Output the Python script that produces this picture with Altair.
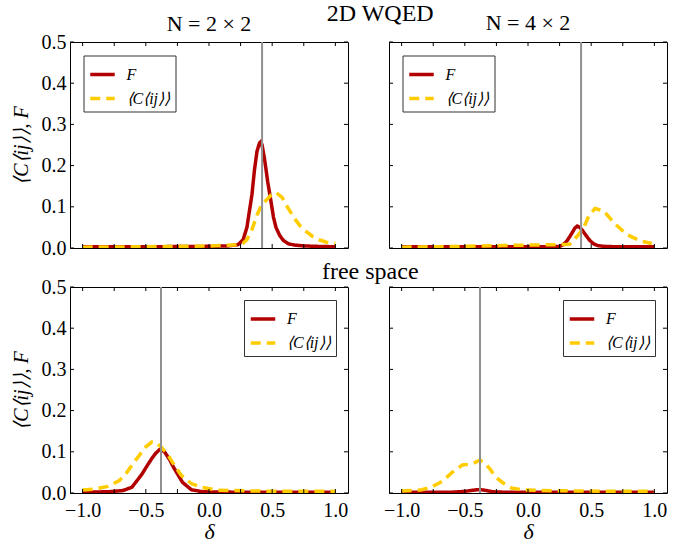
import altair as alt
import pandas as pd

# ---------------- data ----------------
SERIES = ["F", "⟨C⟨ij⟩⟩"]

# 2D WQED, N = 2 x 2
wq22_F_x = [-1.0, -0.5, 0.0, 0.15, 0.23, 0.27, 0.30, 0.32, 0.34, 0.36, 0.38, 0.40, 0.41, 0.42, 0.44, 0.465,
            0.49, 0.51, 0.53, 0.56, 0.59, 0.63, 0.68, 0.75, 0.85, 1.0]
wq22_F_y = [0.003, 0.003, 0.004, 0.005, 0.008, 0.02, 0.05, 0.09, 0.13, 0.19, 0.235, 0.255, 0.258, 0.25, 0.215,
            0.16, 0.114, 0.075, 0.05, 0.03, 0.018, 0.01, 0.007, 0.005, 0.004, 0.003]
wq22_C_x = [-1.0, -0.5, 0.0, 0.2, 0.27, 0.3, 0.34, 0.38, 0.42, 0.45, 0.49, 0.53, 0.58, 0.62, 0.68, 0.73, 0.77,
            0.82, 0.87, 0.93, 1.0]
wq22_C_y = [0.002, 0.003, 0.005, 0.007, 0.012, 0.02, 0.045, 0.08, 0.108, 0.115, 0.128, 0.135, 0.122, 0.1, 0.07,
            0.05, 0.04, 0.028, 0.02, 0.014, 0.011]

# 2D WQED, N = 4 x 2
wq42_F_x = [-1.0, -0.5, 0.0, 0.2, 0.25, 0.28, 0.31, 0.34, 0.37, 0.39, 0.41, 0.43, 0.46, 0.49, 0.52, 0.55, 0.6,
            0.7, 0.85, 1.0]
wq42_F_y = [0.003, 0.003, 0.003, 0.003, 0.004, 0.008, 0.018, 0.032, 0.048, 0.053, 0.05, 0.043, 0.03, 0.018,
            0.01, 0.006, 0.004, 0.003, 0.003, 0.003]
wq42_C_x = [-1.0, -0.5, -0.2, 0.0, 0.2, 0.33, 0.39, 0.44, 0.48, 0.53, 0.6, 0.68, 0.78, 0.89, 0.98]
wq42_C_y = [0.002, 0.004, 0.006, 0.007, 0.008, 0.009, 0.029, 0.049, 0.077, 0.096, 0.09, 0.061, 0.033, 0.017,
            0.011]

# free space, N = 2 x 2
fs22_F_x = [-1.0, -0.8, -0.68, -0.61, -0.53, -0.49, -0.45, -0.42, -0.385, -0.35, -0.31, -0.28, -0.21, -0.14,
            -0.05, 0.2, 0.5, 1.0]
fs22_F_y = [0.002, 0.003, 0.006, 0.014, 0.046, 0.066, 0.085, 0.097, 0.107, 0.099, 0.08, 0.062, 0.026, 0.008,
            0.003, 0.002, 0.002, 0.002]
fs22_C_x = [-1.0, -0.9, -0.8, -0.71, -0.65, -0.6, -0.55, -0.5, -0.45, -0.42, -0.38, -0.33, -0.29, -0.22, -0.14,
            -0.06, 0.06, 0.3, 0.6, 1.0]
fs22_C_y = [0.007, 0.01, 0.016, 0.03, 0.05, 0.072, 0.092, 0.112, 0.124, 0.123, 0.112, 0.095, 0.075, 0.043,
            0.023, 0.014, 0.007, 0.005, 0.004, 0.004]

# free space, N = 4 x 2
fs42_F_x = [-1.0, -0.6, -0.5, -0.45, -0.4, -0.37, -0.33, -0.28, -0.2, 0.0, 0.5, 1.0]
fs42_F_y = [0.002, 0.002, 0.004, 0.006, 0.008, 0.008, 0.006, 0.003, 0.002, 0.002, 0.002, 0.002]
fs42_C_x = [-1.0, -0.9, -0.84, -0.76, -0.68, -0.6, -0.52, -0.46, -0.42, -0.38, -0.34, -0.3, -0.26, -0.2, -0.13,
            -0.05, 0.1, 0.4, 0.7, 1.0]
fs42_C_y = [0.005, 0.006, 0.008, 0.015, 0.028, 0.05, 0.068, 0.07, 0.074, 0.08, 0.072, 0.058, 0.04, 0.025, 0.012,
            0.008, 0.006, 0.005, 0.004, 0.004]

vline_wqed = 0.42
vline_free = -0.38

X_TICKS = [-1.0, -0.75, -0.5, -0.25, 0.0, 0.25, 0.5, 0.75, 1.0]
X_LABELS = [-1.0, -0.5, 0.0, 0.5, 1.0]
Y_TICKS = [0.0, 0.1, 0.2, 0.3, 0.4, 0.5]

# ---------------- style ----------------
W, H = 278, 206
FONT = "Liberation Serif"
RED = "#b20000"
YELLOW = "#ffcc00"
TL = 4  # inward tick length


def panel(fx, fy, cx, cy, vline, lx, ly, show_x, show_y, title=None, title_offset=6):
    df = pd.DataFrame({
        "delta": fx + cx,
        "value": fy + cy,
        "series": [SERIES[0]] * len(fx) + [SERIES[1]] * len(cx),
    })
    xscale = alt.Scale(domain=[-1.1, 1.1], nice=False, zero=False)
    yscale = alt.Scale(domain=[0, 0.5], nice=False, zero=False)
    if show_x:
        xaxis = alt.Axis(values=X_LABELS, format=".1f", title="δ", grid=False, domain=False, ticks=False,
                         tickSize=0, labelFont=FONT, labelFontSize=20, labelColor="black", labelPadding=7,
                         titleFont=FONT, titleFontSize=22, titleFontStyle="italic", titleFontWeight="normal",
                         titleColor="black", titlePadding=1)
    else:
        xaxis = None
    if show_y:
        yaxis = alt.Axis(values=Y_TICKS, format=".1f", title="⟨C⟨ij⟩⟩, F", grid=False, domain=False,
                         ticks=False, tickSize=0, labelFont=FONT, labelFontSize=20, labelColor="black",
                         labelPadding=4, titleFont=FONT, titleFontSize=20, titleFontStyle="italic",
                         titleFontWeight="normal", titleColor="black", titlePadding=10)
    else:
        yaxis = None
    legend = alt.Legend(title=None, orient="none", legendX=lx, legendY=ly, strokeColor="#333333",
                        fillColor="white", padding=5, labelFont=FONT, labelFontSize=16,
                        labelFontStyle="italic", labelColor="black", symbolType="stroke", symbolSize=600,
                        symbolStrokeWidth=3.5, labelOffset=10, rowPadding=2, cornerRadius=0)
    lines = alt.Chart(df).mark_line(strokeWidth=3.5, clip=True).encode(
        x=alt.X("delta:Q", scale=xscale, axis=xaxis),
        y=alt.Y("value:Q", scale=yscale, axis=yaxis),
        color=alt.Color("series:N", scale=alt.Scale(domain=SERIES, range=[RED, YELLOW]), legend=legend),
        strokeDash=alt.StrokeDash("series:N", scale=alt.Scale(domain=SERIES, range=[[1, 0], [10, 6]]),
                                  legend=legend),
    )
    vl = alt.Chart(pd.DataFrame({"delta": [vline]})).mark_rule(color="#909090", strokeWidth=2).encode(
        x=alt.X("delta:Q", scale=xscale, axis=xaxis)
    )
    xt = pd.DataFrame({"delta": X_TICKS})
    yt = pd.DataFrame({"value": Y_TICKS})
    tick_b = alt.Chart(xt).mark_rule(color="black", strokeWidth=1).encode(
        x=alt.X("delta:Q", scale=xscale, axis=xaxis), y=alt.value(H), y2=alt.value(H - TL))
    tick_t = alt.Chart(xt).mark_rule(color="black", strokeWidth=1).encode(
        x=alt.X("delta:Q", scale=xscale, axis=xaxis), y=alt.value(0), y2=alt.value(TL))
    tick_l = alt.Chart(yt).mark_rule(color="black", strokeWidth=1).encode(
        y=alt.Y("value:Q", scale=yscale, axis=yaxis), x=alt.value(0), x2=alt.value(TL))
    tick_r = alt.Chart(yt).mark_rule(color="black", strokeWidth=1).encode(
        y=alt.Y("value:Q", scale=yscale, axis=yaxis), x=alt.value(W), x2=alt.value(W - TL))
    ch = alt.layer(lines, vl, tick_b, tick_t, tick_l, tick_r).properties(width=W, height=H)
    if title:
        ch = ch.properties(title=alt.TitleParams(title, font=FONT, fontSize=22, fontWeight="normal",
                                                 color="black", offset=title_offset))
    return ch


p1 = panel(wq22_F_x, wq22_F_y, wq22_C_x, wq22_C_y, vline_wqed, 13.5, 13.5, False, True, "N = 2 × 2", -4)
p2 = panel(wq42_F_x, wq42_F_y, wq42_C_x, wq42_C_y, vline_wqed, 13.5, 13.5, False, False, "N = 4 × 2", 6)
p3 = panel(fs22_F_x, fs22_F_y, fs22_C_x, fs22_C_y, vline_free, 174, 13, True, True)
p4 = panel(fs42_F_x, fs42_F_y, fs42_C_x, fs42_C_y, vline_free, 174, 13, True, False)


def row(a, b, title, offset, dx):
    return alt.hconcat(a, b, spacing=41, bounds="flush").resolve_scale(
        color="independent", strokeDash="independent"
    ).resolve_legend(color="independent", strokeDash="independent").properties(
        title=alt.TitleParams(title, font=FONT, fontSize=24, fontWeight="normal", color="black",
                              offset=offset, dx=dx, anchor="middle")
    )


top = row(p1, p2, "2D WQED", -14, 41)
bottom = row(p3, p4, "free space", -7, 31)

chart = alt.vconcat(top, bottom, spacing=0).resolve_scale(
    color="independent", strokeDash="independent"
).resolve_legend(color="independent", strokeDash="independent").properties(
    padding={"left": 10, "top": 1, "right": 0, "bottom": 0}
).configure(font=FONT).configure_view(stroke="black", strokeWidth=1)

chart.save("out.html", embed_options={"renderer": "svg", "actions": False})
